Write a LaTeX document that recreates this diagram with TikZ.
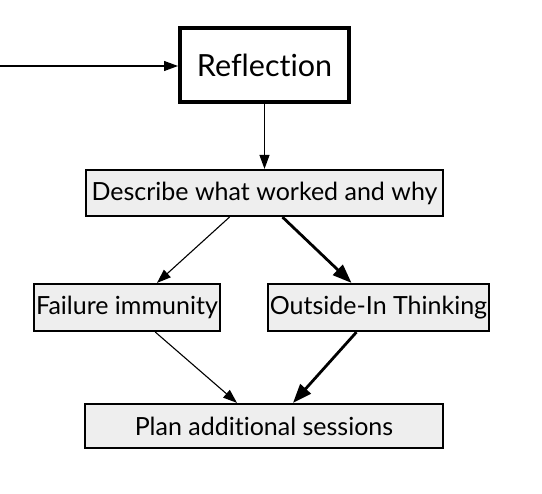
\documentclass[tikz,border=0pt]{standalone}
\usepackage{fontspec}
\setmainfont{Lato}[Ligatures={NoCommon}]
\usetikzlibrary{arrows.meta,positioning}
\definecolor{boxgray}{HTML}{EEEEEE}

\begin{document}
\begin{tikzpicture}[x=1pt, y=-1pt,
    stage/.style={draw, fill=boxgray, line width=2.2pt, minimum height=46pt,
                  inner sep=0pt, font=\fontsize{25}{30}\selectfont},
    thin/.style={line width=1.1pt, -{Triangle[length=14pt,width=10pt]}},
    thick/.style={line width=2.8pt, -{Triangle[length=19pt,width=14pt]}}]
\useasboundingbox (0,0) rectangle (542,494);

\node [draw, fill=white, line width=4pt, minimum width=169pt, minimum height=74pt,
       inner sep=0pt, font=\fontsize{30.5}{36}\selectfont] (refl) at (264.5,65) {Reflection};
\node [stage, minimum width=357pt] (desc) at (264.5,193) {Describe what worked and why};
\node [stage, minimum width=186pt, minimum height=47pt] (fail) at (127,307.5) {Failure immunity};
\node [stage, minimum width=221pt, minimum height=47pt] (outs) at (378.5,307.5) {Outside-In Thinking};
\node [stage, minimum width=358pt, minimum height=44pt] (plan) at (264,426) {Plan additional sessions};
\coordinate (in) at (0,66);

% connectors
\draw [thin] (in) -- (refl.west |- in);
\draw [thin] (refl) -- (desc);
\draw [thin] ([xshift=-35pt]desc.south) -- ([xshift=30pt]fail.north);
\draw [thick] ([xshift=18pt]desc.south) -- ([xshift=-27pt]outs.north);
\draw [thin] (fail) -- ([xshift=-27pt]plan.north);
\draw [thick] (outs) -- ([xshift=29pt]plan.north);
\end{tikzpicture}
\end{document}
